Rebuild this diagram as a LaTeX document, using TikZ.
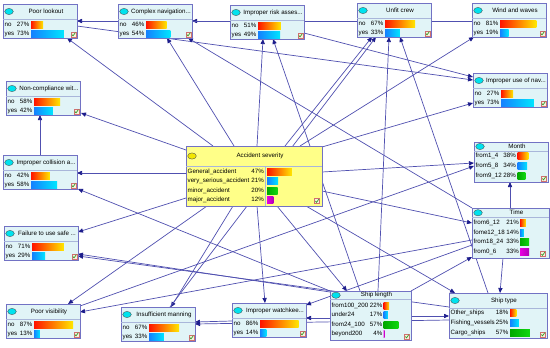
\documentclass[tikz,border=0pt]{standalone}
\usepackage{fontspec}
\setmainfont{Liberation Sans}
\usetikzlibrary{arrows.meta,calc}
\pgfdeclarelayer{background}
\pgfsetlayers{background,main}
\definecolor{boxfill}{HTML}{E1F4F7}
\definecolor{boxline}{HTML}{7272C4}
\definecolor{asfill}{HTML}{FFFF88}
\definecolor{edgecol}{HTML}{5050B0}
\definecolor{tipcol}{HTML}{1C1C8C}
\definecolor{sepcol}{HTML}{A9B6DA}
\definecolor{iconcyan}{HTML}{00E2EE}
\definecolor{iconyellow}{HTML}{F2E600}
\definecolor{rA}{HTML}{FF1400}
\definecolor{yA}{HTML}{FFE800}
\definecolor{bB}{HTML}{1480FF}
\definecolor{cB}{HTML}{00E6FF}
\definecolor{gC}{HTML}{00A800}
\definecolor{lC}{HTML}{10D810}
\definecolor{mD}{HTML}{E800E0}
\definecolor{pD}{HTML}{B000B8}
\definecolor{chkline}{HTML}{D07070}
\definecolor{chkfill}{HTML}{F6F2DC}
\definecolor{chkgreen}{HTML}{3A9A2A}
\newcommand\txtfont{\fontsize{6.2}{7}\selectfont}
\tikzset{
 bnbox/.style={draw=boxline, fill=boxfill, line width=0.8pt, anchor=north west, inner sep=0pt, outer sep=0pt},
 ttl/.style={font=\txtfont, inner sep=0pt},
 lbl/.style={font=\txtfont, inner sep=0pt, anchor=west, text height=4.6pt, text depth=1.4pt},
 pctl/.style={font=\txtfont, inner sep=0pt, anchor=east, text height=4.6pt, text depth=1.4pt},
 ed/.style={draw=edgecol, line width=0.7pt, -{Triangle[length=5pt,width=4.2pt,color=tipcol]}},
}
\newcommand\hdr[4]{%
 \draw[sepcol, line width=0.5pt] (0,#2) -- (#1,#2);
 \draw[black!70, line width=0.35pt, fill=#4] (6,{#2/2}) ellipse [x radius=4.3pt, y radius=3.1pt];
 \node[ttl] at ({(12+#1)/2},{#2/2}) {#3};}
\newcommand\vsep[3]{\draw[sepcol, line width=0.4pt] (#1,#2) -- (#1,#3);}
\newcommand\srow[5]{%
 \node[lbl] at (1.5,#1) {#2};
 \node[pctl] at (\pr,#1) {#3\%};
 \shade[left color=#4, right color=#5] (\bs,{#1-3.5}) rectangle ({\bs+#3*\bm/100},{#1+3.5});}
\newcommand\chk[2]{%
 \draw[chkline, fill=chkfill, line width=0.4pt] ({#1-2.6},{#2-2.6}) rectangle ({#1+2.6},{#2+2.6});
 \draw[chkgreen, line width=0.7pt] ({#1-1.6},{#2}) -- ({#1-0.5},{#2+1.4}) -- ({#1+1.8},{#2-1.8});}
\newcommand\twostate[6]{%
 \begin{scope}[shift={(#2,#3)}]
 \node[bnbox, minimum width=74pt, minimum height=34pt] (#1) at (0,0) {};
 \def\bs{28}\def\pr{26.5}\def\bm{45}%
 \hdr{74}{15}{#4}{iconcyan}
 \srow{20.5}{no}{#5}{rA}{yA}
 \srow{29.5}{yes}{#6}{bB}{cB}
 \chk{70.5}{30.5}
 \end{scope}}
\begin{document}
\begin{tikzpicture}[x=1pt,y=-1pt]
\begin{pgfonlayer}{background}
\fill[white] (0,0) rectangle (550,348);
\end{pgfonlayer}
\useasboundingbox (0,0) rectangle (550,348);
% two-state nodes
\twostate{PL}{3}{4}{Poor lookout}{27}{73}
\twostate{CN}{118}{4}{Complex navigation...}{46}{54}
\twostate{IR}{230}{5}{Improper risk asses...}{51}{49}
\twostate{UC}{357}{3}{Unfit crew}{67}{33}
\twostate{WW}{472}{3}{Wind and waves}{81}{19}
\twostate{IU}{473}{73}{Improper use of nav...}{27}{73}
\twostate{NC}{6}{81}{Non-compliance wit...}{58}{42}
\twostate{IC}{3}{155}{Improper collision a...}{42}{58}
\twostate{FU}{4}{226}{Failure to use safe ...}{71}{29}
\twostate{PV}{6}{304}{Poor visibility}{87}{13}
\twostate{IM}{121}{307}{Insufficient manning}{67}{33}
\twostate{IW}{232}{303}{Improper watchkee...}{86}{14}
% Accident severity
\begin{scope}[shift={(186,146)}]
 \node[bnbox, fill=asfill, minimum width=136pt, minimum height=60pt] (AS) at (0,0) {};
 \def\bs{81}\def\pr{78}\def\bm{53}
 \hdr{136}{20}{Accident severity}{iconyellow}
 \vsep{79.5}{20}{60}
 \srow{25.5}{General\_accident}{47}{rA}{yA}
 \srow{35}{very\_serious\_accident}{21}{bB}{cB}
 \srow{44.5}{minor\_accident}{20}{gC}{lC}
 \srow{54}{major\_accident}{12}{mD}{pD}
 \chk{131}{55}
\end{scope}
% Month
\begin{scope}[shift={(474,142)}]
 \node[bnbox, minimum width=74pt, minimum height=40pt] (MO) at (0,0) {};
 \def\bs{43.5}\def\pr{42}\def\bm{28.5}
 \hdr{74}{9}{Month}{iconcyan}
 \srow{14}{from1\_4}{38}{rA}{yA}
 \srow{24}{from5\_8}{34}{bB}{cB}
 \srow{34}{from9\_12}{28}{gC}{lC}
 \chk{70}{36.5}
\end{scope}
% Time
\begin{scope}[shift={(472,208)}]
 \node[bnbox, minimum width=77pt, minimum height=50pt] (TI) at (0,0) {};
 \def\bs{48}\def\pr{47}\def\bm{27.5}
 \hdr{77}{9.5}{Time}{iconcyan}
 \srow{15}{from6\_12}{21}{rA}{yA}
 \srow{24.7}{fome12\_18}{14}{bB}{cB}
 \srow{34.3}{from18\_24}{33}{gC}{lC}
 \srow{44}{from0\_6}{33}{mD}{pD}
 \chk{71}{46}
\end{scope}
% Ship length
\begin{scope}[shift={(330,291)}]
 \node[bnbox, minimum width=81pt, minimum height=49pt] (SL) at (0,0) {};
 \def\bs{53.5}\def\pr{52.5}\def\bm{26}
 \hdr{81}{8.5}{Ship length}{iconcyan}
 \srow{14.5}{from100\_200}{22}{rA}{yA}
 \srow{24}{under24}{17}{bB}{cB}
 \srow{33.5}{from24\_100}{57}{gC}{lC}
 \srow{43}{beyond200}{4}{mD}{pD}
 \chk{77}{45.5}
\end{scope}
% Ship type
\begin{scope}[shift={(449,293)}]
 \node[bnbox, minimum width=98pt, minimum height=45pt] (ST) at (0,0) {};
 \def\bs{61}\def\pr{59.5}\def\bm{35}
 \hdr{98}{15}{Ship type}{iconcyan}
 \srow{20}{Other\_ships}{18}{rA}{yA}
 \srow{30}{Fishing\_vessels}{25}{bB}{cB}
 \srow{40}{Cargo\_ships}{57}{gC}{lC}
 \chk{94}{41.5}
\end{scope}
% connectors
\begin{pgfonlayer}{background}
\draw[ed] ($(AS.north west)+(27,0)$) -- ($(PL.north west)+(64,34)$);
\draw[ed] ($(AS.north west)+(48,0)$) -- ($(CN.north west)+(49,34)$);
\draw[ed] ($(AS.north west)+(0,4)$) -- ($(NC.north west)+(75,32)$);
\draw[ed] ($(AS.north west)+(71,0)$) -- ($(IR.north west)+(33,34)$);
\draw[ed] ($(AS.north west)+(99,0)$) -- ($(UC.north west)+(15,34)$);
\draw[ed] ($(AS.north west)+(114,0)$) -- ($(WW.north west)+(2,34)$);
\draw[ed] ($(AS.north west)+(136,1)$) -- ($(IU.north west)+(0,30)$);
\draw[ed] ($(AS.north west)+(136,26)$) -- ($(MO.north west)+(0,21)$);
\draw[ed] ($(AS.north west)+(136,45)$) -- ($(TI.north west)+(0,15)$);
\draw[ed] ($(AS.north west)+(120,60)$) -- ($(ST.north west)+(6,0)$);
\draw[ed] ($(AS.north west)+(91,60)$) -- ($(SL.north west)+(17,0)$);
\draw[ed] ($(AS.north west)+(71,60)$) -- ($(IW.north west)+(33,0)$);
\draw[ed] ($(AS.north west)+(47,60)$) -- ($(IM.north west)+(50,0)$);
\draw[ed] ($(AS.north west)+(21,60)$) -- ($(PV.north west)+(62,0)$);
\draw[ed] ($(AS.north west)+(0,52)$) -- ($(FU.north west)+(74,6)$);
\draw[ed] ($(AS.north west)+(0,27)$) -- ($(IC.north west)+(74,18)$);
\draw[ed] ($(IR.north west)+(0,16)$) -- ($(CN.north west)+(74,17)$);
\draw[ed] ($(WW.north west)+(0,18)$) -- ($(PL.north west)+(74,17)$);
\draw[ed] ($(PL.north west)+(74,22)$) -- ($(IU.north west)+(0,7)$);
\draw[ed] ($(IR.north west)+(74,28)$) -- ($(IU.north west)+(0,4)$);
\draw[ed] (TI.north west) -- ($(CN.north west)+(70,34)$);
\draw[ed] ($(SL.north west)+(30,0)$) -- ($(IR.north west)+(43,34)$);
\draw[ed] ($(SL.north west)+(48,0)$) -- ($(UC.north west)+(32,34)$);
\draw[ed] ($(ST.north west)+(39,0)$) -- ($(UC.north west)+(43,34)$);
\draw[ed] ($(IM.north west)+(49,0)$) -- ($(UC.north west)+(19,34)$);
\draw[ed] ($(IC.north west)+(37,0)$) -- ($(NC.north west)+(34,34)$);
\draw[ed] (SL.north west) -- ($(IC.north west)+(75,34)$);
\draw[ed] ($(SL.north west)+(0,1)$) -- ($(FU.north west)+(74,28)$);
\draw[ed] ($(ST.north west)+(0,14)$) -- ($(FU.north west)+(74,30)$);
\draw[ed] ($(TI.north west)+(0,32)$) -- ($(PV.north west)+(74,8)$);
\draw[ed] ($(PV.north west)+(74,2)$) -- ($(MO.north west)+(0,24)$);
\draw[ed] ($(TI.north west)+(38,0)$) -- ($(MO.north west)+(36,40)$);
\draw[ed] ($(TI.north west)+(0,37)$) -- ($(IW.north west)+(74,2)$);
\draw[ed] ($(SL.north west)+(81,0)$) -- ($(TI.north west)+(0,49)$);
\draw[ed] ($(TI.north west)+(31,50)$) -- ($(ST.north west)+(51,0)$);
\draw[ed] ($(SL.north west)+(81,25)$) -- ($(ST.north west)+(0,23)$);
\draw[ed] ($(SL.north west)+(0,27)$) -- ($(IW.north west)+(74,15)$);
\draw[ed] ($(IW.north west)+(0,18)$) -- ($(IM.north west)+(74,15)$);
\draw[ed] ($(ST.north west)+(0,27)$) -- ($(IM.north west)+(74,17)$);
\end{pgfonlayer}
\end{tikzpicture}
\end{document}
